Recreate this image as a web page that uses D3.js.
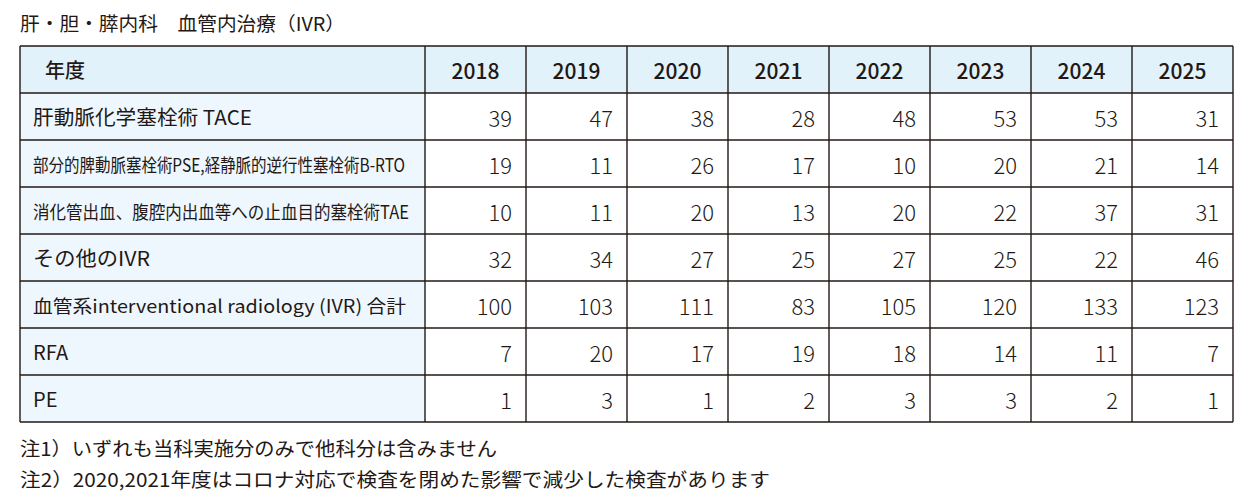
<!DOCTYPE html>
<html lang="ja">
<head>
<meta charset="UTF-8">
<title>肝・胆・膵内科 血管内治療（IVR）</title>
<script src="https://d3js.org/d3.v7.min.js"></script>
<style>
  html, body { margin: 0; padding: 0; background: #fff; }
  svg { display: block; font-family: "Noto Sans CJK JP", "Noto Sans", sans-serif; }
</style>
</head>
<body>
<div id="chart"></div>
<script>
const title = "肝・胆・膵内科　血管内治療（IVR）"
const headLabel = "年度"
const years = ["2018", "2019", "2020", "2021", "2022", "2023", "2024", "2025"]
const rowLabels = [
  "肝動脈化学塞栓術 TACE",
  "部分的脾動脈塞栓術PSE,経静脈的逆行性塞栓術B-RTO",
  "消化管出血、腹腔内出血等への止血目的塞栓術TAE",
  "その他のIVR",
  "血管系interventional radiology (IVR) 合計",
  "RFA",
  "PE"
]
const tace  = [39, 47, 38, 28, 48, 53, 53, 31]
const pse   = [19, 11, 26, 17, 10, 20, 21, 14]
const tae   = [10, 11, 20, 13, 20, 22, 37, 31]
const other = [32, 34, 27, 25, 27, 25, 22, 46]
const total = [100, 103, 111, 83, 105, 120, 133, 123]
const rfa   = [7, 20, 17, 19, 18, 14, 11, 7]
const pe    = [1, 3, 1, 2, 3, 3, 2, 1]
const notes = [
  "注1）いずれも当科実施分のみで他科分は含みません",
  "注2）2020,2021年度はコロナ対応で検査を閉めた影響で減少した検査があります"
]

const series = [tace, pse, tae, other, total, rfa, pe]

const width = 1252
const height = 502
const left = 20, labelRight = 425, right = 1233
const headTop = 46, headBottom = 93, bottom = 422
const ink = "#231815"

// widths the labels take in the reference (squeezed where long)
const labelFit = {0: 219, 1: 372, 2: 376, 3: 117, 4: 373}
const noteFit = [477, 750]

const svg = d3.select("#chart").append("svg")
  .attr("width", width)
  .attr("height", height)
  .attr("viewBox", [0, 0, width, height])

const x = d3.scaleBand().domain(years).range([labelRight, right])
const y = d3.scaleBand().domain(rowLabels).range([headBottom, bottom])

function fit(sel, len) {
  if (len) sel.attr("textLength", len).attr("lengthAdjust", "spacingAndGlyphs")
}

// title
svg.append("text")
  .attr("x", left)
  .attr("y", 22)
  .attr("dominant-baseline", "central")
  .attr("font-size", 19)
  .attr("fill", ink)
  .call(fit, 325)
  .text(title)

// backgrounds
svg.append("rect")
  .attr("x", left).attr("y", headTop)
  .attr("width", right - left).attr("height", headBottom - headTop)
  .attr("fill", "#e1f2fb")
svg.append("rect")
  .attr("x", left).attr("y", headBottom)
  .attr("width", labelRight - left).attr("height", bottom - headBottom)
  .attr("fill", "#eef7fd")

// header texts
svg.append("text")
  .attr("x", 45)
  .attr("y", (headTop + headBottom) / 2)
  .attr("dominant-baseline", "central")
  .attr("font-size", 20)
  .attr("font-weight", 500)
  .attr("fill", ink)
  .text(headLabel)

svg.append("g").selectAll("text")
  .data(years)
  .enter().append("text")
  .attr("x", d => x(d) + x.bandwidth() / 2)
  .attr("y", (headTop + headBottom) / 2)
  .attr("text-anchor", "middle")
  .attr("dominant-baseline", "central")
  .attr("font-size", 21)
  .attr("font-weight", 500)
  .attr("fill", ink)
  .text(d => d)

// row labels
svg.append("g").selectAll("text")
  .data(rowLabels)
  .enter().append("text")
  .attr("x", 33)
  .attr("y", d => y(d) + y.bandwidth() / 2)
  .attr("dominant-baseline", "central")
  .attr("font-size", (d, i) => (i == 1 || i == 2 || i == 4) ? 18 : 20)
  .attr("fill", ink)
  .each(function(d, i) { d3.select(this).call(fit, labelFit[i]) })
  .text(d => d)

// values
const rowsG = svg.append("g").selectAll("g")
  .data(series)
  .enter().append("g")
  .attr("transform", (d, i) => `translate(0,${y(rowLabels[i]) + y.bandwidth() / 2})`)

rowsG.selectAll("text")
  .data(d => d)
  .enter().append("text")
  .attr("x", (d, i) => x(years[i]) + x.bandwidth() - 14)
  .attr("y", 0)
  .attr("text-anchor", "end")
  .attr("dominant-baseline", "central")
  .attr("font-size", 22)
  .attr("font-weight", 300)
  .attr("fill", ink)
  .text(d => d)

// grid lines
const lines = svg.append("g")
  .attr("stroke", ink)
  .attr("stroke-width", 1.4)

const hs = [headTop, headBottom].concat(rowLabels.map(d => y(d) + y.bandwidth()))
lines.selectAll("line.h")
  .data(hs)
  .enter().append("line")
  .attr("class", "h")
  .attr("x1", left).attr("x2", right)
  .attr("y1", d => d).attr("y2", d => d)

const vs = [left, labelRight].concat(years.map(d => x(d) + x.bandwidth()))
lines.selectAll("line.v")
  .data(vs)
  .enter().append("line")
  .attr("class", "v")
  .attr("x1", d => d).attr("x2", d => d)
  .attr("y1", headTop).attr("y2", bottom)

// notes
svg.append("g").selectAll("text")
  .data(notes)
  .enter().append("text")
  .attr("x", left)
  .attr("y", (d, i) => 447 + i * 31)
  .attr("dominant-baseline", "central")
  .attr("font-size", 19)
  .attr("fill", ink)
  .each(function(d, i) { d3.select(this).call(fit, noteFit[i]) })
  .text(d => d)
</script>
</body>
</html>
